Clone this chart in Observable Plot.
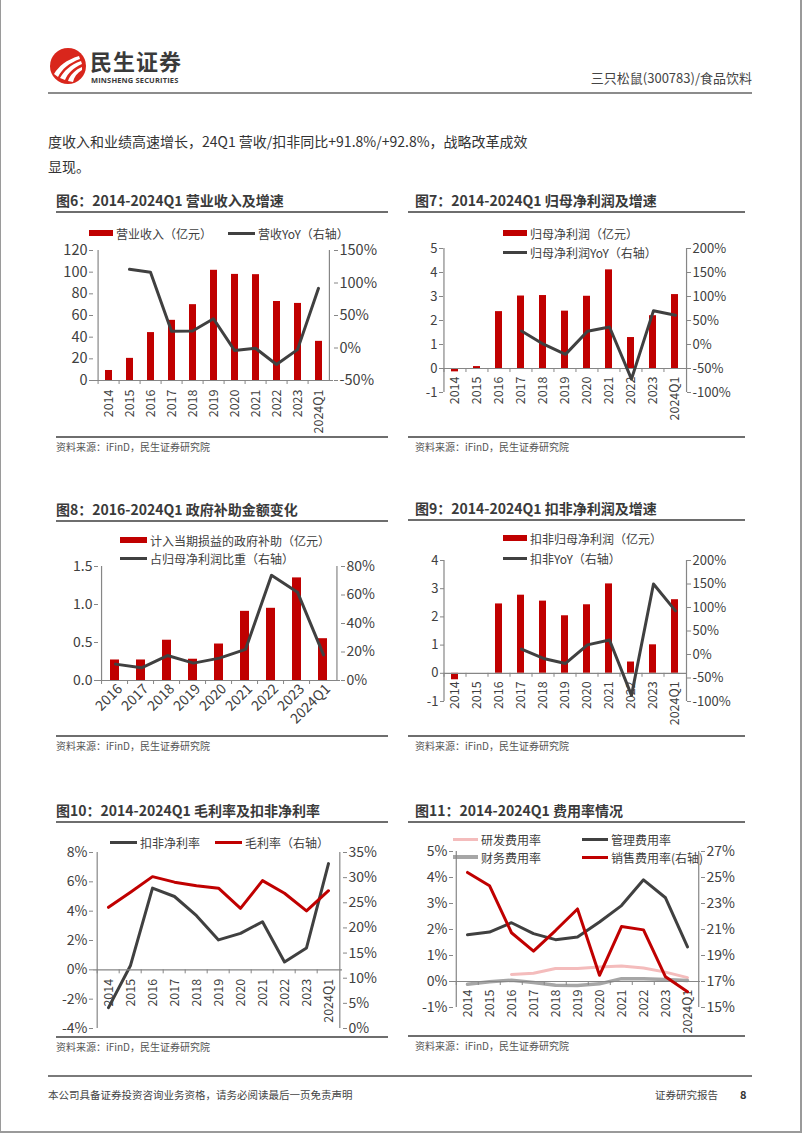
<!DOCTYPE html>
<html>
<head>
<meta charset="utf-8">
<script src="https://cdn.jsdelivr.net/npm/d3@7"></script>
<script src="https://cdn.jsdelivr.net/npm/@observablehq/plot@0.6"></script>
<style>
  body { margin: 0; background: #fff; font-family: "Noto Sans CJK SC", "Noto Sans", sans-serif; }
  #page { position: relative; width: 802px; height: 1133px; overflow: hidden; background: #fff; }
  .a { position: absolute; white-space: nowrap; }
</style>
</head>
<body>
<div id="page"></div>
<script>
// ---------------- data ----------------
const years = ["2014","2015","2016","2017","2018","2019","2020","2021","2022","2023","2024Q1"];
const years16 = ["2016","2017","2018","2019","2020","2021","2022","2023","2024Q1"];

// 图6 营业收入（亿元）及同比（%）
const revenue = [9.24, 20.43, 44.23, 55.54, 70.01, 101.73, 97.94, 97.70, 72.93, 71.15, 36.14];
const revenueYoY = [null, 121.0, 116.5, 25.6, 26.1, 45.0, -3.7, -0.3, -25.4, -2.5, 91.8];

// 图7 归母净利润（亿元）及同比（%）
const netProfit = [-0.14, 0.08, 2.37, 3.02, 3.04, 2.39, 3.01, 4.11, 1.29, 2.20, 3.08];
const netProfitYoY = [null, null, null, 28.0, 0.7, -20.5, 27.5, 36.5, -72.0, 70.5, 61.0];

// 图8 政府补助（亿元）及占归母净利润比重（%）
const subsidy = [0.27, 0.27, 0.53, 0.28, 0.48, 0.91, 0.95, 1.35, 0.55];
const subsidyShare = [11.5, 8.9, 17.5, 12.2, 15.7, 21.8, 73.8, 62.0, 18.0];

// 图9 扣非归母净利润（亿元）及同比（%）
const deductedProfit = [-0.23, 0, 2.46, 2.77, 2.56, 2.04, 2.43, 3.17, 0.40, 1.01, 2.61];
const deductedYoY = [null, null, null, 11.5, -8.5, -19.0, 20.5, 31.0, -87.0, 150.0, 92.8];

// 图10 扣非净利率 / 毛利率（%）
const deductedMargin = [-2.58, 0.30, 5.57, 5.00, 3.69, 2.04, 2.49, 3.28, 0.54, 1.49, 7.24];
const grossMargin = [24.1, 27.1, 30.2, 29.1, 28.4, 27.9, 23.9, 29.4, 26.9, 23.4, 27.4];

// 图11 费用率（%）
const rdRate = [null, null, 0.27, 0.32, 0.50, 0.50, 0.56, 0.60, 0.52, 0.36, 0.15];
const adminRate = [1.80, 1.90, 2.26, 1.84, 1.61, 1.71, 2.29, 2.92, 3.91, 3.22, 1.33];
const finRate = [-0.11, -0.01, 0.05, -0.04, -0.14, -0.15, -0.09, 0.11, 0.11, 0.08, 0.04];
const salesRate = [25.39, 24.37, 20.75, 19.34, 20.92, 22.58, 17.48, 21.23, 20.97, 17.36, 16.21];

// tick values
const ticks6L = [0, 20, 40, 60, 80, 100, 120];
const ticks6R = [-50, 0, 50, 100, 150];
const ticks7L = [-1, 0, 1, 2, 3, 4, 5];
const ticksPctR = [-100, -50, 0, 50, 100, 150, 200];
const ticks8L = [0, 0.5, 1.0, 1.5];
const ticks8R = [0, 20, 40, 60, 80];
const ticks9L = [-1, 0, 1, 2, 3, 4];
const ticks10L = [-4, -2, 0, 2, 4, 6, 8];
const ticks10R = [0, 5, 10, 15, 20, 25, 30, 35];
const ticks11L = [-1, 0, 1, 2, 3, 4, 5];
const ticks11R = [15, 17, 19, 21, 23, 25, 27];

// ---------------- style ----------------
const FONT = '"Noto Sans CJK SC","Noto Sans",sans-serif';
const RED = "#C00000", DARK = "#404040", AXIS = "#868686", TXT = "#404040";
const PINK = "#F4BCBC", GRAY = "#A6A6A6";
const page = document.getElementById("page");

function box(left, top, w, h, css) {
  const d = document.createElement("div");
  d.className = "a";
  d.style.left = left + "px"; d.style.top = top + "px";
  if (w != null) d.style.width = w + "px";
  if (h != null) d.style.height = h + "px";
  Object.assign(d.style, css || {});
  page.appendChild(d);
  return d;
}
function text(str, left, cy, size, css) {
  const lh = Math.round(size * 1.4);
  const d = box(left, cy - lh / 2, null, null, Object.assign({fontSize: size + "px", lineHeight: lh + "px", color: "#333"}, css || {}));
  d.textContent = str;
  return d;
}
function hline(x1, x2, y, thick, color) {
  box(x1, y - thick / 2, x2 - x1, thick, {background: color});
}

// page frame
box(0, 0, 1, 1133, {background: "#9a9a9a"});
box(800, 0, 2, 1133, {background: "#9a9a9a"});
box(0, 1131, 802, 2, {background: "#9a9a9a"});

// header
const logo = box(49, 47, 38, 38);
logo.innerHTML = `<svg width="38" height="38" viewBox="0 0 38 38">
  <circle cx="19" cy="19" r="18" fill="#D9261C"/>
  <path d="M5 27 C10 19 17 13 30 9 L31 12 C20 16 13 22 9 30 Z" fill="#fff"/>
  <path d="M11 31 C15 24 21 18 32 14 L33 17 C24 21 19 26 16 33 Z" fill="#fff"/>
  <path d="M19 34 C21 28 26 23 33 20 L33 23 C28 26 25 30 24 35 Z" fill="#fff"/>
</svg>`;
text("民生证券", 90, 60, 22, {fontWeight: "bold", color: "#3a3a3a", letterSpacing: "1px"});
text("MINSHENG SECURITIES", 91, 80, 7.5, {fontWeight: "bold", color: "#3a3a3a", letterSpacing: "0.15px", fontFamily: '"Open Sans","Noto Sans",sans-serif'});
const hr = text("三只松鼠(300783)/食品饮料", 0, 78, 13, {color: "#444"});
hr.style.left = "auto"; hr.style.right = "50px";
hline(48, 752, 92.5, 2, "#8c8c8c");

text("度收入和业绩高速增长，24Q1 营收/扣非同比+91.8%/+92.8%，战略改革成效", 48, 141, 14, {color: "#333"});
text("显现。", 48, 166, 14, {color: "#333"});

// footer
hline(48, 752, 1076, 1.5, "#7a7a7a");
text("本公司具备证券投资咨询业务资格，请务必阅读最后一页免责声明", 48, 1094, 10.5, {color: "#444"});
text("证券研究报告", 655, 1094, 10.5, {color: "#444"});
text("8", 740, 1094, 11, {color: "#333", fontWeight: "bold"});

// ---------------- chart builder ----------------
function panel(o) {
  text(o.title, o.tx, o.titleLine - 12, 14, {fontWeight: "bold", color: "#3a3a3a"});
  hline(o.lx1, o.lx2, o.titleLine, 1.5, "#6e6e6e");
  hline(o.lx1, o.lx2, o.srcLine, 1.5, "#6e6e6e");
  text("资料来源：iFinD，民生证券研究院", o.tx, o.srcLine + 9.5, 10, {color: "#555"});
  for (const L of o.legend) {
    const len = L.len || (L.type === "rect" ? 24 : 27);
    if (L.type === "rect") box(L.x, L.y - 3, len, 6, {background: L.color});
    else box(L.x, L.y - (L.th || 3) / 2, len, L.th || 3, {background: L.color});
    text(L.label, L.x + len + 3, L.y, 12, {color: TXT});
  }

  const n = o.cats.length;
  const step = (o.w - o.mL - o.mR) / n;
  const base = {
    width: o.w, height: o.h,
    marginLeft: o.mL, marginRight: o.mR, marginTop: o.mT, marginBottom: o.mB,
    x: {domain: o.cats, paddingInner: o.pad, paddingOuter: o.pad / 2, axis: null},
    style: {background: "transparent", fontFamily: FONT, fontSize: "12px", color: TXT, overflow: "visible"}
  };
  const rows = o.cats.map((c, i) => ({c, i}));

  const lm = [];
  if (o.bars) {
    lm.push(Plot.barY(rows.filter(d => o.bars[d.i] != null && o.bars[d.i] !== 0),
      {x: "c", y: d => o.bars[d.i], fill: RED}));
  }
  for (const s of (o.lLines || [])) {
    lm.push(Plot.line(rows.filter(d => s.v[d.i] != null),
      {x: "c", y: d => s.v[d.i], stroke: s.c, strokeWidth: s.w || 3, strokeLinejoin: "round", strokeLinecap: "round"}));
  }
  lm.push(Plot.ruleY([0], {stroke: AXIS, strokeWidth: 1.2}));
  lm.push(Plot.ruleX(o.cats, {x: d => d, y1: 0, y2: 0, dx: -step / 2, insetBottom: -4, stroke: AXIS}));
  lm.push(Plot.ruleX([o.cats[0]], {x: d => d, y1: o.lDomain[0], y2: o.lDomain[1], dx: -step / 2, stroke: AXIS, strokeWidth: 1.2}));
  lm.push(Plot.axisY(o.lTicks, {anchor: "left", tickFormat: o.lFmt, tickSize: 4, tickPadding: 2, stroke: AXIS, fill: TXT, label: null, fontSize: o.lfs}));
  lm.push(Plot.text(o.cats, {x: d => d, y: 0, text: d => d, rotate: o.rot, textAnchor: "end",
    dx: o.ldx || 0, dy: o.ldy, fill: TXT, fontSize: o.xfs}));
  const left = Plot.plot({...base, y: {domain: o.lDomain}, marks: lm});

  const rm = [];
  for (const s of o.rLines) {
    rm.push(Plot.line(rows.filter(d => s.v[d.i] != null),
      {x: "c", y: d => s.v[d.i], stroke: s.c, strokeWidth: s.w || 3, strokeLinejoin: "round", strokeLinecap: "round"}));
  }
  rm.push(Plot.ruleX([o.cats[n - 1]], {x: d => d, y1: o.rDomain[0], y2: o.rDomain[1], dx: step / 2, stroke: AXIS, strokeWidth: 1.2}));
  rm.push(Plot.axisY(o.rTicks, {anchor: "right", tickFormat: o.rFmt, tickSize: 4, tickPadding: 2, stroke: AXIS, fill: TXT, label: null, fontSize: o.rfs}));
  const right = Plot.plot({...base, y: {domain: o.rDomain}, marks: rm});

  const c1 = box(o.left, o.top, o.w, o.h); c1.appendChild(left);
  const c2 = box(o.left, o.top, o.w, o.h); c2.appendChild(right);
}

const pct = d => d + "%";

panel({
  title: "图6：2014-2024Q1 营业收入及增速", tx: 56, lx1: 56, lx2: 388, titleLine: 212, srcLine: 437,
  legend: [
    {type: "rect", color: RED, x: 89, y: 233, label: "营业收入（亿元）"},
    {type: "line", color: DARK, x: 228, y: 233, label: "营收YoY（右轴）"}
  ],
  left: 40, top: 240, w: 350, h: 200, mL: 53, mR: 57, mT: 10, mB: 60,
  cats: years, pad: 0.67, bars: revenue,
  lDomain: [0, 120], lTicks: ticks6L, lFmt: d => d, lfs: 14.5,
  rDomain: [-50, 150], rTicks: ticks6R, rFmt: pct, rfs: 14.5,
  rLines: [{v: revenueYoY, c: DARK}], rot: -90, ldy: 9, xfs: 12.5
});

panel({
  title: "图7：2014-2024Q1 归母净利润及增速", tx: 415, lx1: 408, lx2: 745, titleLine: 212, srcLine: 437,
  legend: [
    {type: "rect", color: RED, x: 503, y: 233, label: "归母净利润（亿元）"},
    {type: "line", color: DARK, x: 503, y: 252, len: 24, label: "归母净利润YoY（右轴）"}
  ],
  left: 400, top: 240, w: 350, h: 200, mL: 43, mR: 64, mT: 8, mB: 48,
  cats: years, pad: 0.67, bars: netProfit,
  lDomain: [-1, 5], lTicks: ticks7L, lFmt: d => d, lfs: 13,
  rDomain: [-100, 200], rTicks: ticksPctR, rFmt: pct, rfs: 13,
  rLines: [{v: netProfitYoY, c: DARK}], rot: -90, ldy: 8, xfs: 12.5
});

panel({
  title: "图8：2016-2024Q1 政府补助金额变化", tx: 56, lx1: 56, lx2: 388, titleLine: 521, srcLine: 736,
  legend: [
    {type: "rect", color: RED, x: 120, y: 540, len: 27, label: "计入当期损益的政府补助（亿元）"},
    {type: "line", color: DARK, x: 120, y: 558, len: 27, label: "占归母净利润比重（右轴）"}
  ],
  left: 40, top: 555, w: 350, h: 190, mL: 58, mR: 50, mT: 11, mB: 65,
  cats: years16, pad: 0.65, bars: subsidy,
  lDomain: [0, 1.5], lTicks: ticks8L, lFmt: d => d.toFixed(1), lfs: 14,
  rDomain: [0, 80], rTicks: ticks8R, rFmt: pct, rfs: 14,
  rLines: [{v: subsidyShare, c: DARK}], rot: -45, ldx: 5, ldy: 6, xfs: 14
});

panel({
  title: "图9：2014-2024Q1 扣非净利润及增速", tx: 415, lx1: 408, lx2: 745, titleLine: 520, srcLine: 736,
  legend: [
    {type: "rect", color: RED, x: 503, y: 538, label: "扣非归母净利润（亿元）"},
    {type: "line", color: DARK, x: 503, y: 558, len: 24, label: "扣非YoY（右轴）"}
  ],
  left: 400, top: 550, w: 350, h: 190, mL: 44, mR: 64, mT: 10, mB: 39,
  cats: years, pad: 0.67, bars: deductedProfit,
  lDomain: [-1, 4], lTicks: ticks9L, lFmt: d => d, lfs: 13,
  rDomain: [-100, 200], rTicks: ticksPctR, rFmt: pct, rfs: 13,
  rLines: [{v: deductedYoY, c: DARK}], rot: -90, ldy: 8, xfs: 12.5
});

panel({
  title: "图10：2014-2024Q1 毛利率及扣非净利率", tx: 56, lx1: 56, lx2: 388, titleLine: 822, srcLine: 1037,
  legend: [
    {type: "line", color: DARK, x: 110, y: 842, label: "扣非净利率"},
    {type: "line", color: RED, x: 215, y: 842, label: "毛利率（右轴）"}
  ],
  left: 40, top: 842, w: 350, h: 195, mL: 53, mR: 48, mT: 10, mB: 9,
  cats: years, pad: 0.67,
  lLines: [{v: deductedMargin, c: DARK}],
  lDomain: [-4, 8], lTicks: ticks10L, lFmt: pct, lfs: 14,
  rDomain: [0, 35], rTicks: ticks10R, rFmt: pct, rfs: 14,
  rLines: [{v: grossMargin, c: RED}], rot: -90, ldy: 9, xfs: 12.5
});

panel({
  title: "图11：2014-2024Q1 费用率情况", tx: 415, lx1: 408, lx2: 745, titleLine: 822, srcLine: 1036,
  legend: [
    {type: "line", color: PINK, x: 453, y: 839, len: 25, label: "研发费用率"},
    {type: "line", color: DARK, x: 582, y: 839, len: 26, label: "管理费用率"},
    {type: "line", color: GRAY, x: 453, y: 857, len: 25, th: 4, label: "财务费用率"},
    {type: "line", color: RED, x: 582, y: 857, len: 26, label: "销售费用率(右轴)"}
  ],
  left: 400, top: 841, w: 350, h: 195, mL: 53, mR: 50, mT: 10, mB: 29,
  cats: years, pad: 0.67,
  lLines: [{v: rdRate, c: PINK}, {v: finRate, c: GRAY, w: 3.5}, {v: adminRate, c: DARK}],
  lDomain: [-1, 5], lTicks: ticks11L, lFmt: pct, lfs: 14,
  rDomain: [15, 27], rTicks: ticks11R, rFmt: pct, rfs: 14,
  rLines: [{v: salesRate, c: RED}], rot: -90, ldy: 8, xfs: 12.5
});
</script>
</body>
</html>
